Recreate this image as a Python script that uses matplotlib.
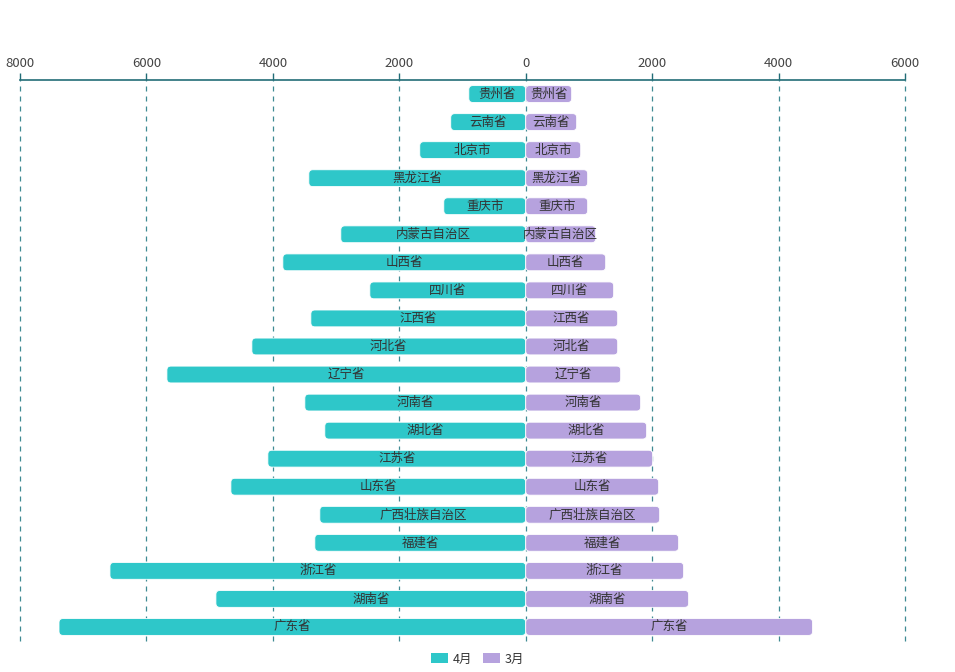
import matplotlib.pyplot as plt
from matplotlib.patches import FancyBboxPatch, Patch

plt.rcParams['font.family'] = ['Noto Sans CJK SC', 'DejaVu Sans']

# 省份（从上到下）
provinces = ['贵州省', '云南省', '北京市', '黑龙江省', '重庆市', '内蒙古自治区', '山西省',
             '四川省', '江西省', '河北省', '辽宁省', '河南省', '湖北省', '江苏省', '山东省',
             '广西壮族自治区', '福建省', '浙江省', '湖南省', '广东省']
april = [900, 1186, 1676, 3431, 1296, 2925, 3842, 2466, 3399, 4332,
         5676, 3494, 3178, 4079, 4664, 3257, 3336, 6577, 4901, 7383]
march = [727, 806, 870, 980, 980, 1107, 1265, 1391, 1455, 1455,
         1502, 1818, 1913, 2008, 2103, 2119, 2419, 2498, 2577, 4538]
ticks = [-8000, -6000, -4000, -2000, 0, 2000, 4000, 6000]

teal = '#2ec7c9'
purple = '#b6a2de'
axis_col = '#226d77'

fig = plt.figure(figsize=(9.55, 6.72), dpi=100)
ax = fig.add_axes([20 / 955, 1 - 641 / 672, 885 / 955, 561 / 672])
ax.set_xlim(-8000, 6000)
ax.set_ylim(len(provinces) - 0.5, -0.5)

y = list(range(len(provinces)))
bars_l = ax.barh(y, [-v for v in april], height=0.6, color=teal)
bars_r = ax.barh(y, march, height=0.6, color=purple)

# 换成圆角矩形
aspect = (1 / 28.1) / (14000 / 885)
for bars, col in [(bars_l, teal), (bars_r, purple)]:
    for b in bars:
        x0, y0 = b.get_x(), b.get_y()
        w, h = b.get_width(), b.get_height()
        if w < 0:
            x0, w = x0 + w, -w
        b.set_visible(False)
        p = FancyBboxPatch((x0, y0), w, h, boxstyle='round,pad=0,rounding_size=63',
                           mutation_aspect=aspect, facecolor=col,
                           edgecolor='white', linewidth=0.6, zorder=3)
        ax.add_patch(p)

for i, name in enumerate(provinces):
    ax.text(-april[i] / 2, i, name, ha='center', va='center', fontsize=9,
            color='#333333', zorder=4)
    ax.text(march[i] / 2, i, name, ha='center', va='center', fontsize=9,
            color='#333333', zorder=4)

ax.xaxis.tick_top()
ax.set_xticks(ticks)
ax.set_xticklabels([str(abs(t)) for t in ticks])
ax.tick_params(axis='x', colors=axis_col, labelcolor='#444444', labelsize=9.5,
               length=5, width=1, pad=2)
ax.set_yticks([])
for s in ['bottom', 'left', 'right']:
    ax.spines[s].set_visible(False)
ax.spines['top'].set_color(axis_col)
ax.spines['top'].set_linewidth(1.2)
ax.grid(axis='x', color='#3f8a93', linestyle=(0, (4, 4)), linewidth=0.9, zorder=0)
ax.set_axisbelow(True)
for gl in ax.get_xgridlines():
    gl.set_clip_on(False)

handles = [Patch(facecolor=teal, label='4月'), Patch(facecolor=purple, label='3月')]
fig.legend(handles=handles, loc='center', bbox_to_anchor=(0.5, 1 - 659 / 672), ncol=2,
           frameon=False, fontsize=9, handlelength=1.4, handleheight=0.9,
           handletextpad=0.4, columnspacing=0.8, labelcolor='#333333')

fig.savefig('out.png', dpi=100)
